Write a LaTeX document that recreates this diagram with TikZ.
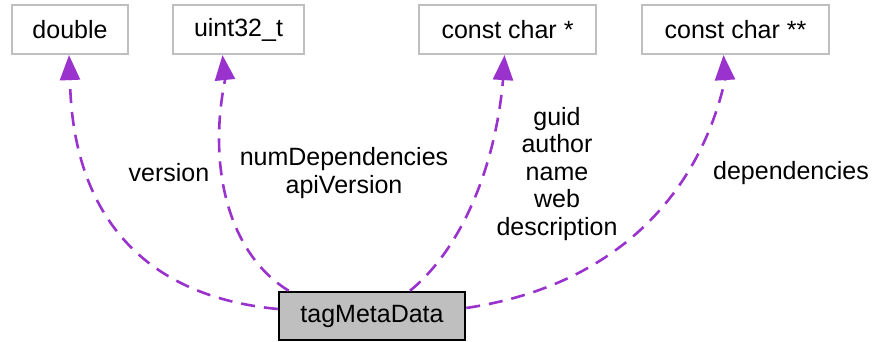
\documentclass[tikz,border=0pt]{standalone}
\usepackage{fontspec}
\setmainfont{Liberation Sans}
\usetikzlibrary{arrows.meta,calc}
\definecolor{edgepurple}{HTML}{9A32CD}
\definecolor{boxgray}{HTML}{BFBFBF}
\tikzset{
  typebox/.style={draw=boxgray, line width=2.2pt, fill=white, minimum height=49pt, inner sep=0pt, font=\fontsize{25}{27.5}\selectfont},
  mainbox/.style={draw=black, line width=2.5pt, fill=boxgray, minimum height=48pt, minimum width=186pt, inner sep=0pt, font=\fontsize{25}{27.5}\selectfont},
  rel/.style={draw=edgepurple, line width=2.6pt, dash pattern=on 14pt off 9pt, -{Triangle[length=25pt,width=20pt]}},
  lbl/.style={font=\fontsize{25}{27.5}\selectfont, align=center, inner sep=0pt},
}
\begin{document}
\begin{tikzpicture}[x=1pt,y=-1pt]
\useasboundingbox (0,0) rectangle (877,342);
\node[typebox, minimum width=116pt] (d) at (70,29.5) {double};
\node[typebox, minimum width=131pt] (u) at (238.5,29.5) {uint32\_t};
\node[typebox, minimum width=177pt] (c1) at (507.5,29.5) {const char *};
\node[typebox, minimum width=187pt] (c2) at (735.5,29.5) {const char **};
\node[mainbox] (m) at (372,316) {tagMetaData};

\coordinate (d1) at (70,80);
\coordinate (u1) at (225,80);
\coordinate (c1b) at (503,80);
\coordinate (c2b) at (725,80);

\draw[rel] ($(m.west)+(0,-7)$) .. controls (130,295) and (72,200) .. (d1) -- ($(d.south)+(-1,0)$);
\draw[rel] ($(m.north west)+(11,0)$) .. controls (230,255) and (207,170) .. (u1) -- ($(u.south)+(-16,0)$);
\draw[rel] ($(m.north)+(38,0)$) .. controls (460,250) and (495,170) .. (c1b) -- ($(c1.south)+(-3,0)$);
\draw[rel] ($(m.east)+(0,-8)$) .. controls (620,285) and (700,190) .. (c2b) -- ($(c2.south)+(-12,0)$);

\node[lbl] (l1) at (169,173) {version};
\node[lbl] (l2) at (344,173) {numDependencies\\apiVersion};
\node[lbl] (l3) at (557,174) {guid\\author\\name\\web\\description};
\node[lbl] (l4) at (791,173) {dependencies};
\end{tikzpicture}
\end{document}
